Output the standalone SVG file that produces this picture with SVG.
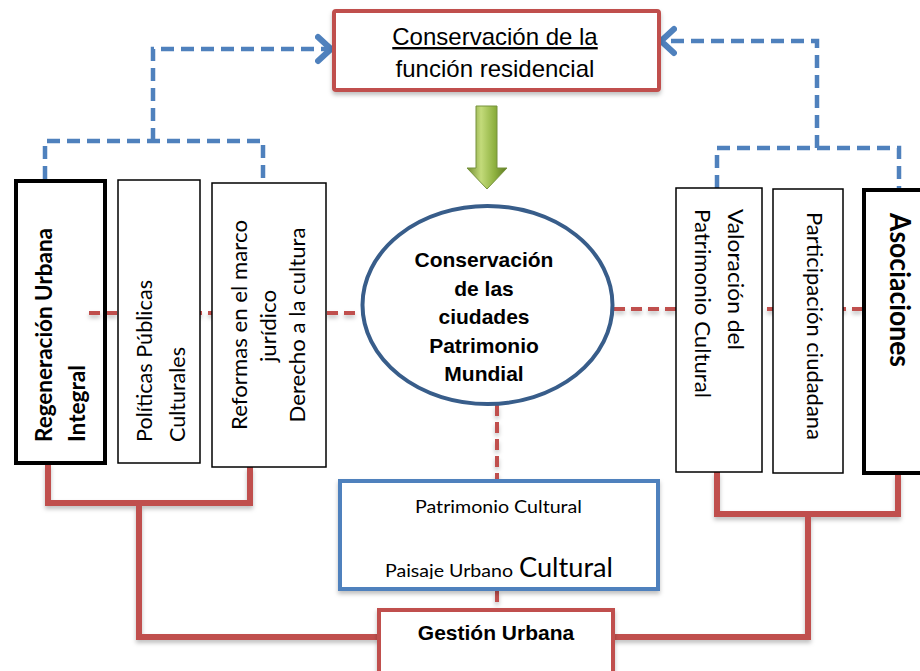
<svg xmlns="http://www.w3.org/2000/svg" width="920" height="671" viewBox="0 0 920 671">
<style>
.red{stroke:#C0504D;fill:none}
.thick{stroke-width:6;stroke-linejoin:miter}
.rdash{stroke-width:4;stroke-dasharray:11 6}
.bdash{stroke:#4F81BD;stroke-width:4.5;fill:none;stroke-dasharray:13 7}
.box{fill:#fff;stroke:#000;stroke-width:1.5}
.boxb{fill:#fff;stroke:#000;stroke-width:4}
.ar{font-family:"Liberation Sans",Arial,sans-serif;fill:#000}
.ca{font-family:Lato,"Liberation Sans",sans-serif;fill:#000}
</style>
<defs>
<marker id="ah" markerUnits="userSpaceOnUse" markerWidth="32" markerHeight="32" refX="16" refY="16" orient="auto" viewBox="0 0 32 32">
<path d="M3,4 L16,16 L3,28" fill="none" stroke="#4F81BD" stroke-width="6" stroke-linecap="round" stroke-linejoin="round"/>
</marker>
<linearGradient id="gg" x1="0" y1="0" x2="1" y2="0">
<stop offset="0" stop-color="#6E8A2E"/>
<stop offset="0.35" stop-color="#C3DB7A"/>
<stop offset="0.7" stop-color="#8DB03E"/>
<stop offset="1" stop-color="#5D7A22"/>
</linearGradient>
<filter id="sh" x="-10%" y="-10%" width="120%" height="130%">
<feDropShadow dx="0" dy="3" stdDeviation="2" flood-color="#000" flood-opacity="0.25"/>
</filter>
<clipPath id="cb"><rect x="342" y="483" width="314" height="96"/></clipPath>
</defs>

<g id="connectors">
<path class="bdash" d="M45,179 V141 H263 V183"/>
<path class="bdash" d="M153,141 V49 H331" marker-end="url(#ah)"/>
<path class="bdash" d="M717,188 V148 H899 V188"/>
<path class="bdash" d="M817,148 V41 H661" marker-end="url(#ah)"/>
<g filter="url(#sh)">
<path class="red rdash" d="M89,313 H361"/>
<path class="red rdash" d="M614,309 H862"/>
<path class="red rdash" d="M497,405 V481"/>
<path class="red rdash" d="M497,591 V610"/>
<path class="red thick" d="M48,464 V503 H250 V467"/>
<path class="red thick" d="M139,503 V637 H379"/>
<path class="red thick" d="M717,472 V514 H898 V474"/>
<path class="red thick" d="M808,514 V637 H613"/>
</g>
</g>

<g id="top-box">
<rect x="334" y="11" width="325" height="79" rx="2" fill="#fff" stroke="#C0504D" stroke-width="4" filter="url(#sh)"/>
<text class="ar" x="495" y="45" font-size="24" text-anchor="middle" text-decoration="underline">Conservación de la</text>
<text class="ar" x="495" y="77" font-size="24" text-anchor="middle">función residencial</text>
</g>

<g id="green-arrow">
<polygon points="476,106 497,106 497,168 507,168 487,189 467,168 476,168" fill="url(#gg)" stroke="#76923C" stroke-width="1"/>
</g>

<g id="center-ellipse">
<ellipse cx="487.5" cy="305" rx="125" ry="99" fill="#fff" stroke="#385D8A" stroke-width="4"/>
<g class="ar" font-size="21" font-weight="bold" text-anchor="middle">
<text x="484" y="267">Conservación</text>
<text x="484" y="296">de las</text>
<text x="484" y="324">ciudades</text>
<text x="484" y="353">Patrimonio</text>
<text x="484" y="381">Mundial</text>
</g>
</g>

<g id="regeneracion">
<rect x="16" y="181" width="89" height="282" class="boxb" style="fill:none"/>
<g class="ca" font-size="23" font-weight="bold">
<text transform="translate(52,442) rotate(-90)" textLength="214" lengthAdjust="spacingAndGlyphs">Regeneración Urbana</text>
<text transform="translate(85,442) rotate(-90)" textLength="77" lengthAdjust="spacingAndGlyphs">Integral</text>
</g>
</g>

<g id="politicas">
<rect x="118" y="180" width="82" height="283" class="box"/>
<g class="ca" font-size="21">
<text transform="translate(152,442) rotate(-90)" textLength="162" lengthAdjust="spacingAndGlyphs">Políticas Públicas</text>
<text transform="translate(185,442) rotate(-90)" textLength="95" lengthAdjust="spacingAndGlyphs">Culturales</text>
</g>
</g>

<g id="reformas">
<rect x="212" y="183" width="114" height="284" class="box"/>
<g class="ca" font-size="21" text-anchor="middle">
<text transform="translate(247,325) rotate(-90)" textLength="210" lengthAdjust="spacingAndGlyphs">Reformas en el marco</text>
<text transform="translate(276,326) rotate(-90)" textLength="72" lengthAdjust="spacingAndGlyphs">jurídico</text>
<text transform="translate(305,325) rotate(-90)" textLength="195" lengthAdjust="spacingAndGlyphs">Derecho a la cultura</text>
</g>
</g>

<g id="valoracion">
<rect x="676" y="188" width="86" height="284" class="box"/>
<g class="ca" font-size="21">
<text transform="translate(728,209) rotate(90)" textLength="141" lengthAdjust="spacingAndGlyphs">Valoración del</text>
<text transform="translate(695,209) rotate(90)" textLength="189" lengthAdjust="spacingAndGlyphs">Patrimonio Cultural</text>
</g>
</g>

<g id="participacion">
<rect x="773" y="189" width="70" height="284" class="box"/>
<text class="ca" font-size="21" transform="translate(807,212) rotate(90)" textLength="228" lengthAdjust="spacingAndGlyphs">Participación ciudadana</text>
</g>

<g id="asociaciones">
<rect x="864" y="190" width="70" height="283" class="boxb"/>
<text class="ca" font-size="28" font-weight="bold" transform="translate(890,213) rotate(90)" textLength="154" lengthAdjust="spacingAndGlyphs">Asociaciones</text>
</g>

<g id="patrimonio-box">
<rect x="340" y="481" width="318" height="108" fill="#fff" stroke="#4F81BD" stroke-width="4" filter="url(#sh)"/>
<g clip-path="url(#cb)">
<text class="ca" x="415" y="513" font-size="18" textLength="167" lengthAdjust="spacingAndGlyphs">Patrimonio Cultural</text>
<text class="ca" x="385" y="577" font-size="18" textLength="128" lengthAdjust="spacingAndGlyphs">Paisaje Urbano</text>
<text class="ca" x="519" y="577" font-size="26" textLength="94" lengthAdjust="spacingAndGlyphs">Cultural</text>
</g>
</g>

<g id="gestion">
<rect x="379" y="610" width="234" height="66" fill="#fff" stroke="#C0504D" stroke-width="4" filter="url(#sh)"/>
<text class="ar" x="496" y="640" font-size="21" font-weight="bold" text-anchor="middle">Gestión Urbana</text>
</g>
</svg>
